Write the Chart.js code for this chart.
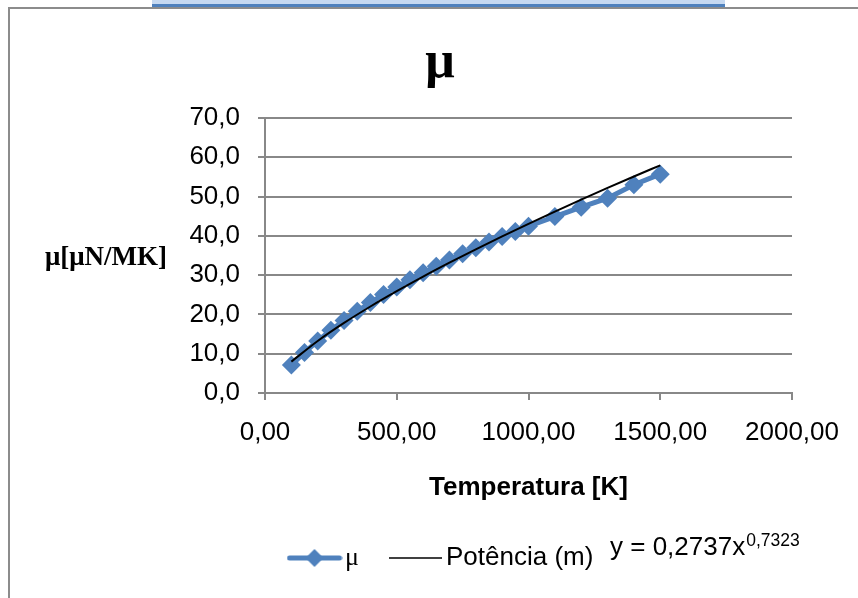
<!DOCTYPE html>
<html><head><meta charset="utf-8">
<script src="https://cdn.jsdelivr.net/npm/chart.js@4.4.1/dist/chart.umd.min.js"></script>
<style>
@font-face { font-family: 'MuSerif'; src: local('Liberation Serif'), local('LiberationSerif'); unicode-range: U+03BC, U+00B5; }
html,body{margin:0;padding:0;background:#fff;overflow:hidden}#c{display:block}
</style>
</head><body>
<canvas id="c" width="858" height="598"></canvas>
<script>
// ---- data ----
const temperatures = [100,150,200,250,300,350,400,450,500,550,600,650,700,750,800,850,900,950,1000,1100,1200,1300,1400,1500];
const viscosity = [7.11,10.34,13.25,15.96,18.46,20.82,23.01,25.07,27.01,28.84,30.58,32.25,33.88,35.46,36.98,38.43,39.81,41.13,42.44,44.90,47.30,49.60,53.00,55.70];
const trendTemperatures = [100,200,300,400,500,600,700,800,900,1000,1100,1200,1300,1400,1500];
const trendValues = [7.98,13.25,17.84,22.02,25.92,29.63,33.17,36.58,39.87,43.07,46.19,49.23,52.20,55.10,57.96];
const xTickLabels = ['0,00','500,00','1000,00','1500,00','2000,00'];
const yTickLabels = ['0,0','10,0','20,0','30,0','40,0','50,0','60,0','70,0'];
const seriesLabels = ['μ','Potência (m)'];
const chartTitle = 'μ';
const xAxisTitle = 'Temperatura [K]';
const yAxisTitle = 'μ[μN/MK]';
const equationMain = 'y = 0,2737x';
const equationExp = '0,7323';

// ---- styles ----
const BLUE = '#4F81BD';
const GRID = '#888888';
const SANS = '"Liberation Sans", Arial, sans-serif';
const LEGEND_FONT = 'MuSerif, "Liberation Sans", Arial, sans-serif';
const SERIF = '"Liberation Serif", "Times New Roman", serif';

function makeMarkerImage() {
  const c = document.createElement('canvas'); c.width = 56; c.height = 22;
  const g = c.getContext('2d');
  g.strokeStyle = BLUE; g.lineWidth = 5; g.lineCap = 'round';
  g.beginPath(); g.moveTo(3, 11); g.lineTo(53, 11); g.stroke();
  g.fillStyle = BLUE; g.beginPath();
  g.moveTo(28 - 9, 11); g.lineTo(28, 11 - 9); g.lineTo(28 + 9, 11); g.lineTo(28, 11 + 9); g.closePath(); g.fill();
  return c;
}
function makeLineImage() {
  const c = document.createElement('canvas'); c.width = 53; c.height = 4;
  const g = c.getContext('2d');
  g.strokeStyle = '#000'; g.lineWidth = 1.6;
  g.beginPath(); g.moveTo(0, 2); g.lineTo(53, 2); g.stroke();
  return c;
}

const decor = {
  id: 'decor',
  beforeDraw(chart) {
    const ctx = chart.ctx;
    ctx.save();
    ctx.fillStyle = '#fff'; ctx.fillRect(0, 0, chart.width, chart.height);
    ctx.fillStyle = '#c6d9f1'; ctx.fillRect(152, 0, 573, 4);
    ctx.fillStyle = '#4f81bd'; ctx.fillRect(152, 4, 573, 3);
    ctx.fillStyle = '#8c8c8c'; ctx.fillRect(8, 7, 850, 2); ctx.fillRect(8, 7, 2, 591);
    ctx.restore();
  },
  afterLayout(chart) {
    const lg = chart.legend;
    if (!lg || !lg.lineWidths) return;
    const pad = lg.options.labels.padding;
    const startX = (lg.left + pad + lg.right - lg.lineWidths[0]) / 2;
    const shift = 297 - startX;
    lg.left += shift; lg.right += shift;
  },
  afterDraw(chart) {
    const ctx = chart.ctx;
    ctx.save();
    ctx.fillStyle = '#000'; ctx.textAlign = 'left'; ctx.textBaseline = 'alphabetic';
    ctx.font = 'bold 27px ' + SERIF;
    ctx.fillText(yAxisTitle, 45, 265);
    ctx.font = '26px ' + SANS;
    ctx.fillText(equationMain, 610, 555);
    const w = ctx.measureText(equationMain).width;
    ctx.font = '17.5px ' + SANS;
    ctx.fillText(equationExp, 610 + w + 1, 546);
    ctx.restore();
  }
};

function build() {
  const markerImg = makeMarkerImage();
  const lineImg = makeLineImage();
  new Chart(document.getElementById('c'), {
    type: 'scatter',
    data: {
      datasets: [
        {
          label: seriesLabels[0],
          data: temperatures.map((t, i) => ({x: t, y: viscosity[i]})),
          showLine: true,
          borderColor: BLUE, borderWidth: 5,
          pointStyle: 'rectRot', pointRadius: 9.5, pointBorderWidth: 0,
          pointBackgroundColor: BLUE, pointBorderColor: BLUE,
          order: 1
        },
        {
          label: seriesLabels[1],
          data: trendTemperatures.map((t, i) => ({x: t, y: trendValues[i]})),
          showLine: true,
          borderColor: '#000', borderWidth: 2,
          pointRadius: 0, cubicInterpolationMode: 'monotone',
          order: 0
        }
      ]
    },
    options: {
      responsive: false, animation: false, devicePixelRatio: 1,
      events: [],
      layout: { padding: { left: 88, right: 66, top: 12, bottom: 17 } },
      plugins: {
        tooltip: { enabled: false },
        title: {
          display: true, text: chartTitle, color: '#000',
          font: { family: SERIF, size: 52, weight: 'bold', lineHeight: 1.2 },
          padding: { top: 20.2, bottom: 23.4 }
        },
        legend: {
          display: true, position: 'bottom',
          labels: {
            usePointStyle: true, pointStyleWidth: 35, padding: 39, color: '#000',
            font: { family: LEGEND_FONT, size: 26 },
            generateLabels: () => [
              { text: seriesLabels[0], pointStyle: markerImg, fillStyle: BLUE, strokeStyle: BLUE, lineWidth: 0, hidden: false, datasetIndex: 0 },
              { text: seriesLabels[1], pointStyle: lineImg, fillStyle: '#000', strokeStyle: '#000', lineWidth: 0, hidden: false, datasetIndex: 1 }
            ]
          }
        }
      },
      scales: {
        x: {
          type: 'linear', min: 0, max: 2000,
          afterFit(s) { s.height = 113; },
          ticks: { stepSize: 500, padding: 17, color: '#000', font: { family: SANS, size: 26 }, maxRotation: 0, autoSkip: false,
                   callback: (v, i) => xTickLabels[i] },
          grid: { drawOnChartArea: false, drawTicks: true, tickLength: 7, color: GRID, lineWidth: 2 },
          border: { color: GRID, width: 2 },
          title: { display: true, text: xAxisTitle, color: '#000', font: { family: SANS, size: 26, weight: 'bold' }, padding: { top: 0, bottom: 2.4 } }
        },
        y: {
          min: 0, max: 70,
          afterFit(s) { s.width = 177; },
          ticks: { stepSize: 10, padding: 18, color: '#000', font: { family: SANS, size: 26 },
                   callback: (v, i) => yTickLabels[i] },
          grid: { tickLength: 7, color: GRID, lineWidth: 2 },
          border: { color: GRID, width: 2 }
        }
      }
    },
    plugins: [decor]
  });
}

let built = false;
function go() { if (!built) { built = true; build(); } }
if (document.fonts && document.fonts.load) {
  document.fonts.load('26px MuSerif', 'μ').then(go, go);
  setTimeout(go, 1500);
} else { go(); }
</script>
</body></html>
